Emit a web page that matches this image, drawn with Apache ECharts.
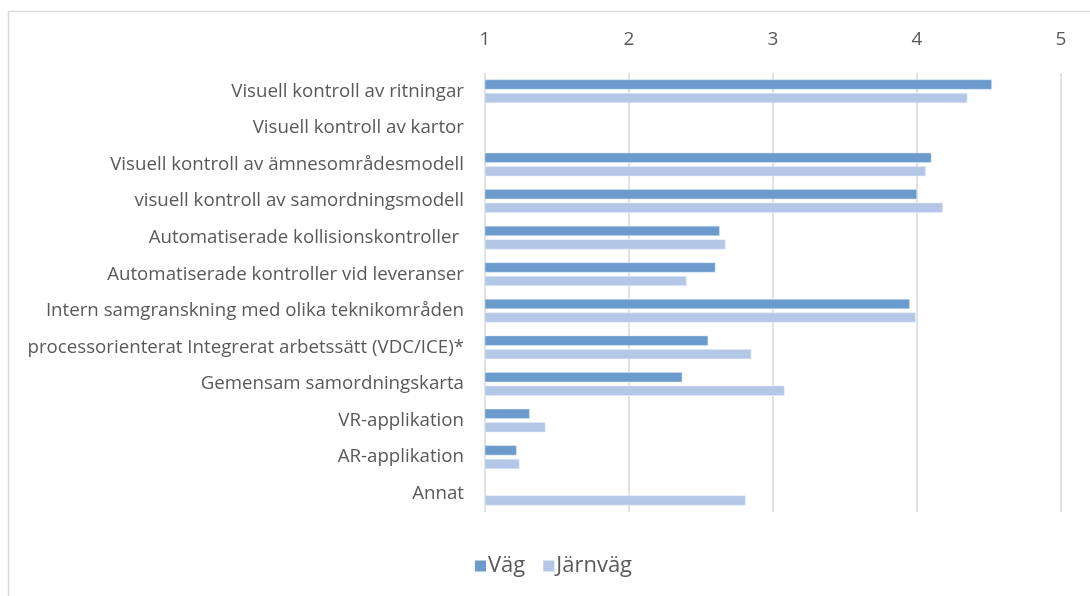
<!DOCTYPE html>
<html>
<head>
<meta charset="utf-8">
<script src="https://cdn.jsdelivr.net/npm/echarts@6/dist/echarts.min.js"></script>
<style>
html,body{margin:0;padding:0;background:#fff;}
#chart{width:1090px;height:596px;}
</style>
</head>
<body>
<div id="chart"></div>
<script>
const categories = [
  'Visuell kontroll av ritningar',
  'Visuell kontroll av kartor',
  'Visuell kontroll av ämnesområdesmodell',
  'visuell kontroll av samordningsmodell',
  'Automatiserade kollisionskontroller ',
  'Automatiserade kontroller vid leveranser',
  'Intern samgranskning med olika teknikområden',
  'processorienterat Integrerat arbetssätt (VDC/ICE)*',
  'Gemensam samordningskarta',
  'VR-applikation',
  'AR-applikation',
  'Annat'
];
const seriesNames = ['Väg', 'Järnväg'];
const vag = [4.52, null, 4.10, 4.00, 2.63, 2.60, 3.95, 2.55, 2.37, 1.31, 1.22, null];
const jarnvag = [4.35, null, 4.06, 4.18, 2.67, 2.40, 3.99, 2.85, 3.08, 1.42, 1.24, 2.81];
const xTicks = [1, 2, 3, 4, 5];

const FONT = 'Open Sans';
const TXT = '#595959';
const chart = echarts.init(document.getElementById('chart'));
chart.setOption({
  animation: false,
  textStyle: { fontFamily: FONT },
  graphic: [{
    type: 'rect',
    shape: { x: 8.5, y: 11.5, width: 1200, height: 700 },
    style: { fill: 'none', stroke: '#d9d9d9', lineWidth: 1.5 },
    silent: true
  }],
  legend: {
    data: seriesNames,
    left: 470,
    top: 550,
    icon: 'rect',
    itemWidth: 11,
    itemHeight: 11,
    itemGap: 18,
    itemStyle: { borderWidth: 0 },
    textStyle: { fontFamily: FONT, fontSize: 22, color: TXT, padding: [0, 0, 0, -3] }
  },
  grid: { left: 485, right: 29, top: 73, bottom: 84, containLabel: false },
  xAxis: {
    type: 'value',
    position: 'top',
    min: xTicks[0],
    max: xTicks[xTicks.length - 1],
    interval: 1,
    axisLine: { show: false },
    axisTick: { show: false },
    axisLabel: { fontFamily: FONT, fontSize: 19, color: TXT, margin: 24 },
    splitLine: { show: true, lineStyle: { color: '#d9d9d9', width: 1.5 } }
  },
  yAxis: {
    type: 'category',
    inverse: true,
    data: categories,
    axisLine: { show: false },
    axisTick: { show: false },
    axisLabel: { fontFamily: FONT, fontSize: 18.7, color: TXT, margin: 21 }
  },
  series: [
    {
      name: seriesNames[0], type: 'bar', data: vag,
      barWidth: 10, barGap: '35%',
      itemStyle: { color: '#6a9bcc', borderColor: '#dfe9f5', borderWidth: 0.5 }
    },
    {
      name: seriesNames[1], type: 'bar', data: jarnvag,
      barWidth: 10, barGap: '35%',
      itemStyle: { color: '#b4c7e7', borderColor: '#e6edf8', borderWidth: 0.5 }
    }
  ]
});
</script>
</body>
</html>
